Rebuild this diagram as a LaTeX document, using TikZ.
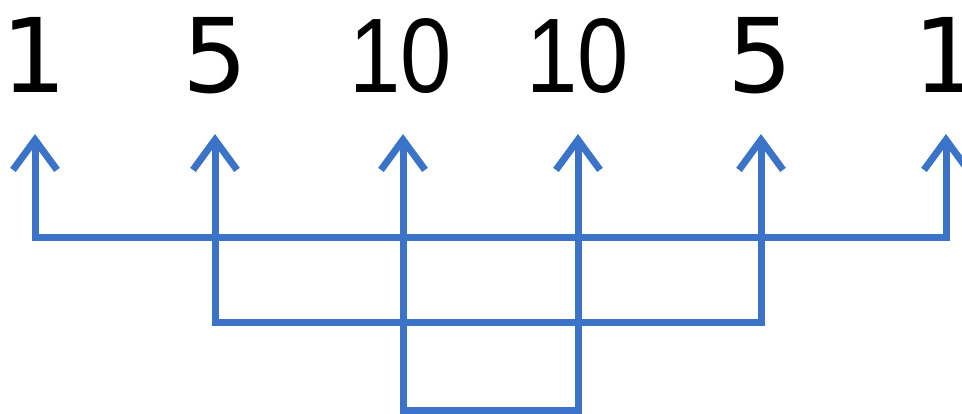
\documentclass[tikz,border=0pt]{standalone}
\usepackage{fontspec}
\usetikzlibrary{arrows.meta}
\newfontfamily\digitfont{DejaVu Sans}
\newfontfamily\tenfont{Liberation Sans}
\definecolor{brkblue}{RGB}{59,115,200}
\begin{document}
\begin{tikzpicture}[
            x=1pt,
            y=-1pt,
            every node/.style={
                anchor=base,
                inner sep=0pt,
                font=\digitfont\fontsize{103}{110}\selectfont
            },
            ten/.style={
                font=\tenfont\fontsize{106}{110}\selectfont,
                xscale=0.87
            },
            brk/.style={
                draw=brkblue,
                line width=7pt,
                {Straight Barb[sharp,length=30pt,width=44pt]}-{Straight Barb[sharp,length=30pt,width=44pt]}
            }
        ]
            \useasboundingbox (0,0) rectangle (962,413);

            \node (n1) at (34,92) {1};
            \node (n2) at (215,92) {5};
            \node[ten] (n3) at (401,92) {10};
            \node[ten] (n4) at (578,92) {10};
            \node (n5) at (760,92) {5};
            \node (n6) at (946,92) {1};

            \coordinate (t1) at (35,134);
            \coordinate (t2) at (215,134);
            \coordinate (t3) at (403,134);
            \coordinate (t4) at (578,134);
            \coordinate (t5) at (761,134);
            \coordinate (t6) at (946,134);

            \draw[brk] (t1) -- ++(0,103) -| (t6);
            \draw[brk] (t2) -- ++(0,188) -| (t5);
            \draw[brk] (t3) -- ++(0,276) -| (t4);
        \end{tikzpicture}
\end{document}
